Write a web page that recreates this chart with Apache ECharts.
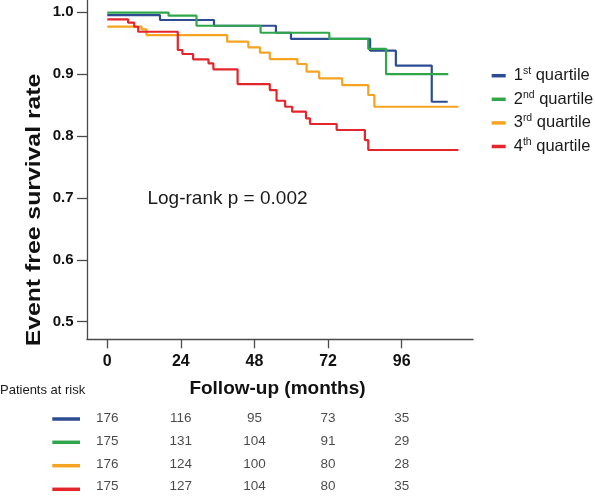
<!DOCTYPE html>
<html>
<head>
<meta charset="utf-8">
<script src="https://cdn.jsdelivr.net/npm/echarts@6/dist/echarts.min.js"></script>
<style>
  html, body { margin: 0; padding: 0; background: #fff; }
  #chart { width: 595px; height: 498px; }
</style>
</head>
<body>
<div id="chart"></div>
<script>
// ---- Data ----
const tickMonths = [0, 24, 48, 72, 96];
const yTicks = [0.5, 0.6, 0.7, 0.8, 0.9, 1.0];

const groupNames = ['1st quartile', '2nd quartile', '3rd quartile', '4th quartile'];
const groupColors = ['#2D4C92', '#2FA64A', '#F5A320', '#E2262C'];

// Kaplan-Meier step curves: time (months) and survival after each step
const q1Time = [0, 17.2, 34.8, 55.0, 59.9, 85.7, 94.1, 105.8, 111.0];
const q1Surv = [0.9956, 0.9876, 0.9783, 0.967, 0.957, 0.938, 0.914, 0.8555, 0.8555];

const q2Time = [0, 20.0, 29.1, 50.0, 72.4, 85.1, 90.9, 111.2];
const q2Surv = [0.9995, 0.9945, 0.9783, 0.967, 0.957, 0.941, 0.900, 0.900];

const q3Time = [0, 11.2, 12.8, 39.1, 46.0, 49.8, 53.0, 62.0, 65.0, 69.1, 76.6, 85.1, 87.1, 114.5];
const q3Surv = [0.977, 0.9725, 0.9633, 0.9525, 0.9434, 0.9347, 0.9245, 0.9165, 0.904, 0.8933, 0.8825, 0.8664, 0.8474, 0.8474];

const q4Time = [0, 6.8, 8.8, 10.1, 23.0, 24.5, 28.0, 33.0, 34.6, 42.5, 53.0, 55.2, 58.0, 60.3, 64.8, 66.1, 74.8, 84.0, 85.1, 114.5];
const q4Surv = [0.9887, 0.9832, 0.9767, 0.9686, 0.9391, 0.9326, 0.924, 0.9176, 0.9079, 0.8841, 0.8744, 0.8571, 0.8474, 0.8394, 0.8287, 0.8195, 0.8098, 0.7936, 0.7775, 0.7775];

// Patients at risk at 0, 24, 48, 72, 96 months
const riskQ1 = [176, 116, 95, 73, 35];
const riskQ2 = [175, 131, 104, 91, 29];
const riskQ3 = [176, 124, 100, 80, 28];
const riskQ4 = [175, 127, 104, 80, 35];

const supText = ['st', 'nd', 'rd', 'th'];

// ---- Chart ----
const FONT = '"Liberation Sans", Arial, Helvetica, sans-serif';
const curves = [[q1Time, q1Surv], [q2Time, q2Surv], [q3Time, q3Surv], [q4Time, q4Surv]];
const risks = [riskQ1, riskQ2, riskQ3, riskQ4];

const X_MIN = -6.6, X_MAX = 119.25;
const Y_MIN = 0.4716, Y_MAX = 1.0199;

const lineSeries = curves.map((c, i) => ({
  name: groupNames[i],
  type: 'line',
  step: 'end',
  xAxisIndex: 0, yAxisIndex: 0,
  symbol: 'none',
  lineStyle: { width: 2.2, color: groupColors[i] },
  itemStyle: { color: groupColors[i] },
  data: c[0].map((t, k) => [t, c[1][k]]),
  z: 2
}));

const riskSeries = risks.map((r, i) => ({
  name: 'risk' + i,
  type: 'scatter',
  xAxisIndex: 1, yAxisIndex: 1,
  symbolSize: 1,
  itemStyle: { color: 'rgba(0,0,0,0)' },
  label: {
    show: true, position: 'inside',
    formatter: p => String(p.value[2]),
    color: '#1a1a1a', fontSize: 13.5, fontFamily: FONT
  },
  data: tickMonths.map((m, k) => [m, i, r[k]])
}));

const riskRowY = [419, 442.3, 465.7, 489.3];

const option = {
  animation: false,
  backgroundColor: '#fff',
  grid: [
    { left: 87, top: 0, width: 386, height: 339.3 },
    { left: 87, top: 407.3, width: 386, height: 93.6 }
  ],
  xAxis: [
    {
      type: 'value', gridIndex: 0, min: X_MIN, max: X_MAX,
      splitLine: { show: false },
      axisLine: { show: true, onZero: false, lineStyle: { color: '#4a4a4a', width: 1.3 } },
      axisTick: { show: true, length: 9, customValues: tickMonths, lineStyle: { color: '#4a4a4a', width: 1.3 } },
      axisLabel: { customValues: tickMonths, margin: 14, fontSize: 16, fontWeight: 'bold', color: '#111', fontFamily: FONT }
    },
    { type: 'value', gridIndex: 1, min: X_MIN, max: X_MAX, show: false }
  ],
  yAxis: [
    {
      type: 'value', gridIndex: 0, min: Y_MIN, max: Y_MAX,
      splitLine: { show: false },
      axisLine: { show: true, onZero: false, lineStyle: { color: '#4a4a4a', width: 1.3 } },
      axisTick: { show: true, length: 10, customValues: yTicks, lineStyle: { color: '#4a4a4a', width: 1.3 } },
      axisLabel: { customValues: yTicks, margin: 13.5, fontSize: 15, fontWeight: 'bold', color: '#111', fontFamily: FONT,
        formatter: v => v.toFixed(1) }
    },
    { type: 'category', gridIndex: 1, inverse: true, data: ['0', '1', '2', '3'], show: false }
  ],
  legend: {
    orient: 'vertical',
    left: 486.7, top: 60.7,
    itemWidth: 14, itemHeight: 3.5, itemGap: 3.6,
    icon: 'rect',
    data: groupNames,
    selectedMode: false,
    formatter: name => {
      const i = groupNames.indexOf(name);
      return '{n|' + (i + 1) + '}{s|' + supText[i] + '}{n| quartile}';
    },
    textStyle: {
      padding: [0, 0, 0, 3],
      lineHeight: 20,
      rich: {
        n: { fontSize: 16.5, fontFamily: FONT, color: '#1a1a1a', lineHeight: 20 },
        s: { fontSize: 10.5, fontFamily: FONT, color: '#1a1a1a', verticalAlign: 'top', lineHeight: 12 }
      }
    }
  },
  graphic: [
    { type: 'text', x: 34, y: 210, rotation: Math.PI / 2, scaleX: 1.18,
      style: { text: 'Event free survival rate', font: 'bold 21px ' + FONT, fill: '#111', textAlign: 'center', textVerticalAlign: 'middle' } },
    { type: 'text', x: 227.5, y: 198.3,
      style: { text: 'Log-rank p = 0.002', font: '19px ' + FONT, fill: '#1a1a1a', textAlign: 'center', textVerticalAlign: 'middle' } },
    { type: 'text', x: 277.5, y: 388.3,
      style: { text: 'Follow-up (months)', font: 'bold 19px ' + FONT, fill: '#111', textAlign: 'center', textVerticalAlign: 'middle' } },
    { type: 'text', x: 0, y: 390,
      style: { text: 'Patients at risk', font: '13px ' + FONT, fill: '#1a1a1a', textAlign: 'left', textVerticalAlign: 'middle' } }
  ].concat(riskRowY.map((y, i) => ({
    type: 'line', shape: { x1: 52.3, y1: y, x2: 80, y2: y },
    style: { stroke: groupColors[i], lineWidth: 3.5 }
  }))),
  series: lineSeries.concat(riskSeries)
};

const chart = echarts.init(document.getElementById('chart'), null, { renderer: 'canvas' });
chart.setOption(option);
</script>
</body>
</html>
